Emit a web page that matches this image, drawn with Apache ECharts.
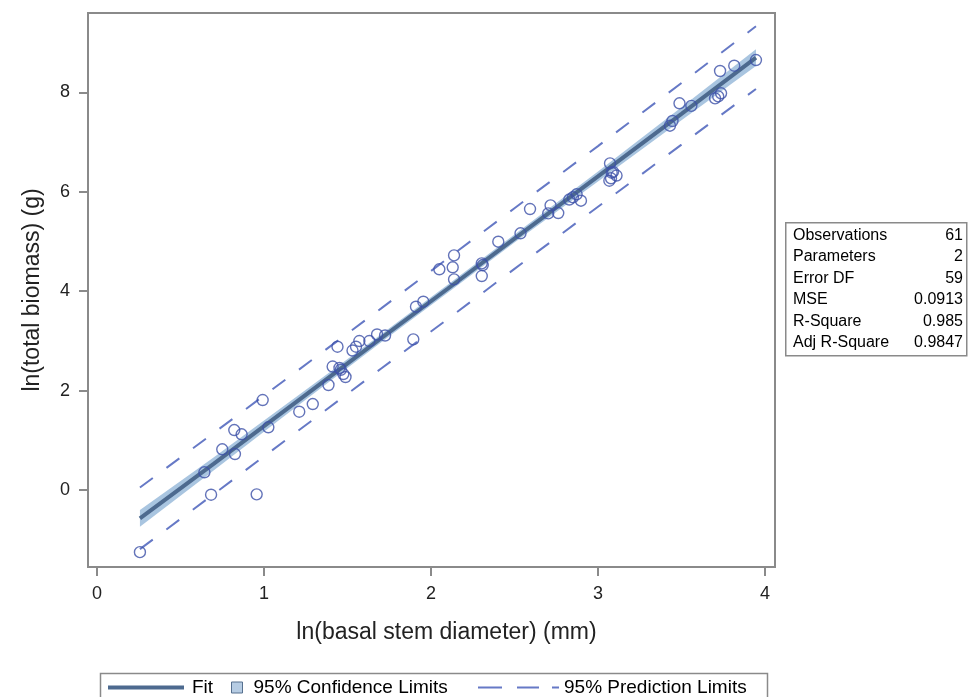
<!DOCTYPE html>
<html><head><meta charset="utf-8">
<script src="https://cdn.jsdelivr.net/npm/echarts@6/dist/echarts.min.js"></script>
<style>html,body{margin:0;padding:0;background:#fff}#c{width:968px;height:697px}</style>
</head><body><div id="c"></div>
<script>
// observed points: ln(basal stem diameter), ln(total biomass)
const obsX = [0.257,0.643,0.683,0.750,0.826,0.822,0.866,0.956,0.992,1.026,1.211,1.292,1.386,1.411,1.452,1.475,1.488,1.440,1.530,1.551,1.571,1.631,1.677,1.725,1.894,1.910,1.954,2.050,2.138,2.130,2.138,2.304,2.310,2.304,2.403,2.536,2.593,2.702,2.716,2.762,2.828,2.872,2.898,3.072,3.082,3.111,3.068,3.078,3.431,3.446,3.488,3.559,3.701,3.737,3.731,3.816,3.946,1.460,2.850,3.090,3.720];
const obsY = [-1.25,0.356,-0.095,0.819,0.724,1.207,1.121,-0.087,1.811,1.262,1.575,1.730,2.113,2.485,2.455,2.334,2.274,2.883,2.807,2.883,2.998,2.998,3.129,3.109,3.032,3.688,3.789,4.441,4.722,4.481,4.239,4.561,4.527,4.306,4.996,5.165,5.654,5.567,5.728,5.573,5.845,5.950,5.821,6.573,6.384,6.328,6.223,6.272,7.330,7.425,7.781,7.730,7.881,7.982,8.431,8.537,8.652,2.420,5.890,6.400,7.920];
// fit line and limits read at these x positions
const curveX   = [0.257, 0.7, 1.2, 1.7, 2.1, 2.5, 3.0, 3.5, 3.946];
const fitY     = [-0.57, 0.53, 1.79, 3.05, 4.05, 5.06, 6.31, 7.57, 8.70];
const clmLower = [-0.74, 0.40, 1.69, 2.97, 3.97, 4.98, 6.21, 7.44, 8.53];
const clmUpper = [-0.40, 0.66, 1.89, 3.13, 4.13, 5.14, 6.41, 7.70, 8.87];
const plmLower = [-1.19, -0.08, 1.18, 2.44, 3.44, 4.45, 5.70, 6.95, 8.07];
const plmUpper = [0.05, 1.15, 2.40, 3.65, 4.66, 5.67, 6.92, 8.19, 9.33];
const xTicks = [0, 1, 2, 3, 4];
const yTicks = [0, 2, 4, 6, 8];
const statLabels = ['Observations','Parameters','Error DF','MSE','R-Square','Adj R-Square'];
const statValues = ['61','2','59','0.0913','0.985','0.9847'];

const FONT = '"Liberation Sans", Arial, sans-serif';
const pair = (xs, ys) => xs.map((x, i) => [x, ys[i]]);

const chart = echarts.init(document.getElementById('c'), null, {renderer: 'canvas'});
const statGraphics = [];
statLabels.forEach((s, i) => {
  const cy = 235.5 + 21.5 * i;
  statGraphics.push({type: 'text', left: 793, top: cy - 8, style: {text: s, font: '16px ' + FONT, fill: '#000'}});
  statGraphics.push({type: 'text', right: 5, top: cy - 8, style: {text: statValues[i], font: '16px ' + FONT, fill: '#000', textAlign: 'right'}});
});

const legendText = {fontFamily: FONT, fontSize: 19, color: '#000'};
const axisCommon = {
  axisLine: {show: true, onZero: false, lineStyle: {color: '#8a8a8a', width: 2}},
  splitLine: {show: false}
};

chart.setOption({
  animation: false,
  backgroundColor: '#fff',
  grid: {left: 88, top: 13, width: 687, height: 554, show: true, borderColor: '#8a8a8a', borderWidth: 2, backgroundColor: 'transparent'},
  xAxis: Object.assign({
    type: 'value', min: -0.054, max: 4.06,
    name: 'ln(basal stem diameter) (mm)', nameLocation: 'middle', nameGap: 54,
    nameTextStyle: {fontFamily: FONT, fontSize: 23, color: '#222', padding: [0, 0, 0, 30]},
    axisTick: {show: true, customValues: xTicks, length: 9, lineStyle: {color: '#8a8a8a', width: 2}},
    axisLabel: {customValues: xTicks, margin: 18, fontFamily: FONT, fontSize: 18, color: '#222'}
  }, axisCommon),
  yAxis: Object.assign({
    type: 'value', min: -1.549, max: 9.598,
    name: 'ln(total biomass) (g)', nameLocation: 'middle', nameGap: 44,
    nameTextStyle: {fontFamily: FONT, fontSize: 23, color: '#222'},
    axisTick: {show: true, customValues: yTicks, length: 9, lineStyle: {color: '#8a8a8a', width: 2}},
    axisLabel: {customValues: yTicks, margin: 18, fontFamily: FONT, fontSize: 18, color: '#222'}
  }, axisCommon),
  legend: [
    {data: [{name: 'Fit', icon: 'path://M0,0h76v4h-76z'}], left: 108, top: 678, itemWidth: 76, itemHeight: 16, padding: 0,
     itemStyle: {borderWidth: 0}, textStyle: Object.assign({padding: [0,0,0,3]}, legendText), selectedMode: false},
    {data: [{name: '95% Confidence Limits', icon: 'path://M0,0h11v11h-11z'}], left: 231, top: 678, itemWidth: 11, itemHeight: 16, padding: 0,
     itemStyle: {color: '#b6cce3', borderColor: '#56708f', borderWidth: 1}, textStyle: Object.assign({padding: [0,0,0,6]}, legendText), selectedMode: false},
    {data: [{name: '95% Prediction Limits', icon: 'path://M0,0h24v2h-24z M39,0h22v2h-22z M74,0h7v2h-7z'}], left: 478, top: 678, itemWidth: 81, itemHeight: 16, padding: 0,
     itemStyle: {borderWidth: 0}, textStyle: legendText, selectedMode: false}
  ],
  graphic: [
    {type: 'rect', left: 98, top: 671, shape: {width: 667, height: 40}, style: {fill: 'none', stroke: '#8a8a8a', lineWidth: 1.5}},
    {type: 'rect', left: 785, top: 222, shape: {width: 181, height: 133}, style: {fill: '#fff', stroke: '#8a8a8a', lineWidth: 1.5}},
    ...statGraphics
  ],
  series: [
    {name: '95% Confidence Limits', type: 'custom', silent: true, z: 1,
     itemStyle: {color: '#a9c5e0'},
     data: curveX.map((x, i) => [x, clmLower[i], clmUpper[i]]),
     encode: {x: 0, y: [1, 2]},
     renderItem: function (params, api) {
       if (params.dataIndex !== 0) return null;
       const pts = [];
       for (let i = 0; i < curveX.length; i++) pts.push(api.coord([curveX[i], clmUpper[i]]));
       for (let i = curveX.length - 1; i >= 0; i--) pts.push(api.coord([curveX[i], clmLower[i]]));
       return {type: 'polygon', shape: {points: pts}, style: {fill: '#a9c5e0'}};
     }},
    {name: '95% Prediction Limits', type: 'line', data: pair(curveX, plmLower), symbol: 'none', silent: true,
     color: '#6679c6', lineStyle: {color: '#6679c6', width: 2, type: [16, 17]}, z: 2},
    {name: '95% Prediction Limits', type: 'line', data: pair(curveX, plmUpper), symbol: 'none', silent: true,
     color: '#6679c6', lineStyle: {color: '#6679c6', width: 2, type: [16, 17]}, z: 2},
    {name: 'Fit', type: 'line', data: pair(curveX, fitY), symbol: 'none', silent: true,
     color: '#4d6a8f', lineStyle: {color: '#4d6a8f', width: 4}, z: 3},
    {name: 'Observed', type: 'scatter', data: pair(obsX, obsY), symbol: 'circle', symbolSize: 11,
     itemStyle: {color: 'rgba(0,0,0,0)', borderColor: '#3c50a8', borderWidth: 1.4}, z: 4}
  ]
});
</script>
</body></html>
